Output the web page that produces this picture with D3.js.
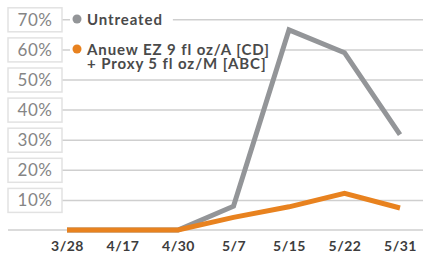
<!DOCTYPE html>
<html>
<head>
<meta charset="utf-8">
<script src="https://cdn.jsdelivr.net/npm/d3@7"></script>
<style>
  body { margin: 0; background: #fff; }
  svg text { font-family: "Lato", "DejaVu Sans", sans-serif; }
</style>
</head>
<body>
<svg id="chart" width="423" height="254"></svg>
<script>
var dates = ["3/28", "4/17", "4/30", "5/7", "5/15", "5/22", "5/31"]
var untreated = [0, 0, 0, 7.9, 66.5, 58.9, 31.7]
var anuew = [0, 0, 0, 4.2, 7.7, 12.2, 7.3]
var yTicks = [10, 20, 30, 40, 50, 60, 70]

var svg = d3.select("#chart")
const width = 423

const xScale = d3.scalePoint()
  .domain(dates)
  .range([67, 400])
const yScale = d3.scaleLinear()
  .domain([0, 70])
  .range([230, 19.3])

// gridlines + boxed tick labels
const yAxis = d3.axisRight(yScale)
  .tickValues(yTicks)
  .tickSize(width - 62)
  .tickFormat(d => d + "%")
const gy = svg.append("g")
  .attr("transform", "translate(62,0)")
  .call(yAxis)
gy.select(".domain").remove()
gy.selectAll(".tick line").attr("stroke", "#cfcfcf").attr("stroke-width", 1.5)
gy.selectAll(".tick").insert("rect", "text")
  .attr("x", -54).attr("y", -12)
  .attr("width", 54).attr("height", 24)
  .attr("fill", "#fff").attr("stroke", "#e2e2e2").attr("stroke-width", 1.5)
gy.selectAll(".tick text")
  .attr("x", -27).attr("dy", "0.35em")
  .attr("text-anchor", "middle")
  .attr("fill", "#858585")
  .style("font-size", "17px")
  .style("letter-spacing", "0.5px")

// baseline
svg.append("line")
  .attr("x1", 8).attr("x2", width)
  .attr("y1", yScale(0)).attr("y2", yScale(0))
  .attr("stroke", "#cfcfcf").attr("stroke-width", 1.5)

// x axis labels
const xAxis = d3.axisBottom(xScale).tickSize(0).tickPadding(0)
const gx = svg.append("g")
  .attr("transform", "translate(0,251)")
  .call(xAxis)
gx.select(".domain").remove()
gx.selectAll(".tick text")
  .attr("dy", 0).attr("y", 0)
  .attr("fill", "#3d3d3d")
  .style("font-size", "14px")
  .style("font-weight", "bold")
  .style("letter-spacing", "0.5px")

// legend (drawn before the lines so the lines sit on top)
var legendItems = [
  { lines: ["Untreated"], color: "#939598", y: 19 },
  { lines: ["Anuew EZ 9 fl oz/A [CD]", "+ Proxy 5 fl oz/M [ABC]"], color: "#e8821f", y: 49 }
]
legendItems.forEach(function(item) {
  const g = svg.append("g")
  const bg = g.append("rect").attr("fill", "#fff")
  g.append("circle")
    .attr("cx", 77).attr("cy", item.y).attr("r", 4.5)
    .attr("fill", item.color)
  item.lines.forEach(function(s, i) {
    g.append("text")
      .attr("x", 87).attr("y", item.y + 5.5 + i * 14.5)
      .attr("fill", "#4a4a4a")
      .style("font-size", "15px")
      .style("font-weight", "bold")
      .style("letter-spacing", "0.9px")
      .text(s)
  })
  const b = g.node().getBBox()
  bg.attr("x", 70).attr("y", item.y - 8)
    .attr("width", b.x + b.width + 10 - 70).attr("height", 16)
})

// lines
const line = d3.line()
  .x((d, i) => xScale(dates[i]))
  .y(d => yScale(d))

svg.append("path")
  .datum(untreated)
  .attr("d", line)
  .attr("fill", "none")
  .attr("stroke", "#939598")
  .attr("stroke-width", 5)

svg.append("path")
  .datum(anuew)
  .attr("d", line)
  .attr("fill", "none")
  .attr("stroke", "#e8821f")
  .attr("stroke-width", 5)
</script>
</body>
</html>
